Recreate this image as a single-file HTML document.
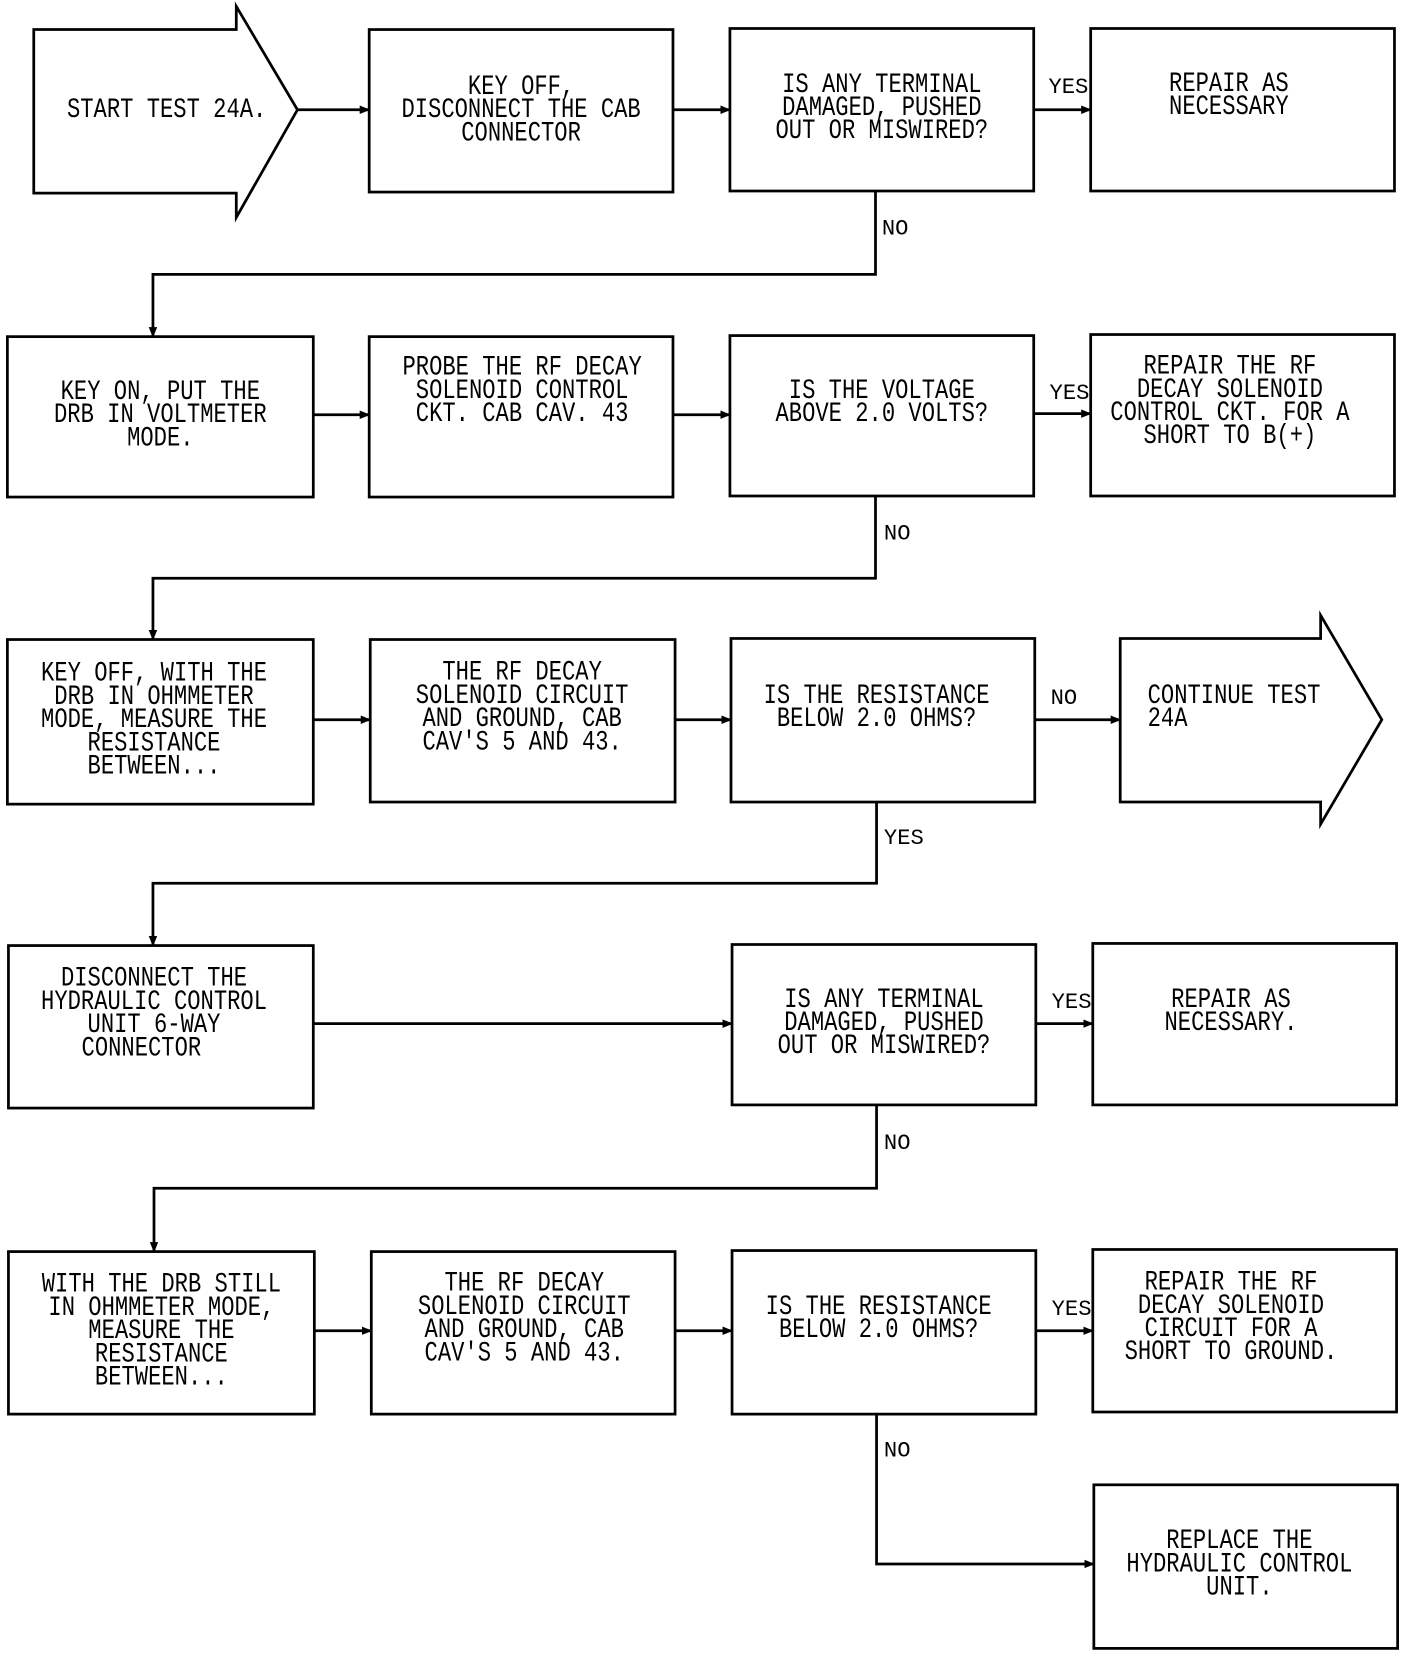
<!DOCTYPE html>
<html><head><meta charset="utf-8"><style>
html,body{margin:0;padding:0;background:#fff;}
svg{display:block;}
text{font-family:"Liberation Mono",monospace;font-size:21px;fill:#000;text-anchor:middle;}
.l{text-anchor:start;}
</style></head><body>
<svg width="1424" height="1660" viewBox="0 0 1350 1573" preserveAspectRatio="none" xmlns="http://www.w3.org/2000/svg">
<defs><marker id="a" markerWidth="10" markerHeight="8" refX="9" refY="4" orient="auto" markerUnits="userSpaceOnUse"><path d="M0,0 L10,4 L0,8 z" fill="#000"/></marker></defs>
<g fill="none" stroke="#000" stroke-width="2.6">
<!-- row1 -->
<path d="M32,28 H224 V6 L282,104 L224,206 V183 H32 Z"/>
<rect x="350" y="28" width="288" height="154"/>
<rect x="692" y="27" width="288" height="154"/>
<rect x="1034" y="27" width="288" height="154"/>
<!-- row2 -->
<rect x="7" y="319" width="290" height="152"/>
<rect x="350" y="319" width="288" height="152"/>
<rect x="692" y="318" width="288" height="152"/>
<rect x="1034" y="317" width="288" height="153"/>
<!-- row3 -->
<rect x="7" y="606" width="290" height="156"/>
<rect x="351" y="606" width="289" height="154"/>
<rect x="693" y="605" width="288" height="155"/>
<path d="M1062,605 H1252 V583 L1310,682 L1252,781 V760 H1062 Z"/>
<!-- row4 -->
<rect x="8" y="896" width="289" height="154"/>
<rect x="694" y="895" width="288" height="152"/>
<rect x="1036" y="894" width="288" height="153"/>
<!-- row5 -->
<rect x="8" y="1186" width="290" height="154"/>
<rect x="352" y="1186" width="288" height="154"/>
<rect x="694" y="1185" width="288" height="155"/>
<rect x="1036" y="1184" width="288" height="154"/>
<rect x="1037" y="1407" width="288" height="155"/>
<!-- connectors -->
<g marker-end="url(#a)">
<path d="M282,104 H350"/><path d="M638,104 H692"/><path d="M980,104 H1034"/>
<path d="M830,181 V260 H145 V319"/>
<path d="M297,393 H350"/><path d="M638,393 H692"/><path d="M980,392 H1034"/>
<path d="M830,470 V548 H145 V606"/>
<path d="M297,682 H351"/><path d="M640,682 H693"/><path d="M981,682 H1062"/>
<path d="M831,760 V837 H145 V896"/>
<path d="M297,970 H694"/><path d="M982,970 H1036"/>
<path d="M831,1047 V1126 H146 V1186"/>
<path d="M298,1261 H352"/><path d="M640,1261 H694"/><path d="M982,1261 H1036"/>
<path d="M831,1340 V1482 H1037"/>
</g>
</g>
<!-- labels -->
<g>
<text class="l" x="994" y="88">YES</text>
<text class="l" x="836" y="222">NO</text>
<text class="l" x="995" y="378">YES</text>
<text class="l" x="838" y="511">NO</text>
<text class="l" x="996" y="667">NO</text>
<text class="l" x="838" y="800">YES</text>
<text class="l" x="997" y="955">YES</text>
<text class="l" x="838" y="1089">NO</text>
<text class="l" x="997" y="1246">YES</text>
<text class="l" x="838" y="1380">NO</text>
</g>
<g>
<text transform="translate(158,111) scale(1,1.25)">START TEST 24A.</text>
<text transform="translate(494,89) scale(1,1.25)"><tspan x="0" dy="0">KEY OFF,</tspan><tspan x="0" dy="17.6">DISCONNECT THE CAB</tspan><tspan x="0" dy="17.6">CONNECTOR</tspan></text>
<text transform="translate(836,87) scale(1,1.25)"><tspan x="0" dy="0">IS ANY TERMINAL</tspan><tspan x="0" dy="17.6">DAMAGED, PUSHED</tspan><tspan x="0" dy="17.6">OUT OR MISWIRED?</tspan></text>
<text transform="translate(1165,86) scale(1,1.25)"><tspan x="0" dy="0">REPAIR AS</tspan><tspan x="0" dy="17.6">NECESSARY</tspan></text>

<text transform="translate(152,378) scale(1,1.25)"><tspan x="0" dy="0">KEY ON, PUT THE</tspan><tspan x="0" dy="17.6">DRB IN VOLTMETER</tspan><tspan x="0" dy="17.6">MODE.</tspan></text>
<text transform="translate(495,355) scale(1,1.25)"><tspan x="0" dy="0">PROBE THE RF DECAY</tspan><tspan x="0" dy="17.6">SOLENOID CONTROL</tspan><tspan x="0" dy="17.6">CKT. CAB CAV. 43</tspan></text>
<text transform="translate(836,377) scale(1,1.25)"><tspan x="0" dy="0">IS THE VOLTAGE</tspan><tspan x="0" dy="17.6">ABOVE 2.0 VOLTS?</tspan></text>
<text transform="translate(1166,354) scale(1,1.25)"><tspan x="0" dy="0">REPAIR THE RF</tspan><tspan x="0" dy="17.6">DECAY SOLENOID</tspan><tspan x="0" dy="17.6">CONTROL CKT. FOR A</tspan><tspan x="0" dy="17.6">SHORT TO B(+)</tspan></text>

<text transform="translate(146,645) scale(1,1.25)"><tspan x="0" dy="0">KEY OFF, WITH THE</tspan><tspan x="0" dy="17.6">DRB IN OHMMETER</tspan><tspan x="0" dy="17.6">MODE, MEASURE THE</tspan><tspan x="0" dy="17.6">RESISTANCE</tspan><tspan x="0" dy="17.6">BETWEEN...</tspan></text>
<text transform="translate(495,644) scale(1,1.25)"><tspan x="0" dy="0">THE RF DECAY</tspan><tspan x="0" dy="17.6">SOLENOID CIRCUIT</tspan><tspan x="0" dy="17.6">AND GROUND, CAB</tspan><tspan x="0" dy="17.6">CAV'S 5 AND 43.</tspan></text>
<text transform="translate(831,666) scale(1,1.25)"><tspan x="0" dy="0">IS THE RESISTANCE</tspan><tspan x="0" dy="17.6">BELOW 2.0 OHMS?</tspan></text>
<text class="l" transform="translate(1088,666) scale(1,1.25)"><tspan x="0" dy="0">CONTINUE TEST</tspan><tspan x="0" dy="17.6">24A</tspan></text>

<text transform="translate(146,934) scale(1,1.25)"><tspan x="0" dy="0">DISCONNECT THE</tspan><tspan x="0" dy="17.6">HYDRAULIC CONTROL</tspan><tspan x="0" dy="17.6">UNIT 6-WAY</tspan><tspan x="-12" dy="17.6">CONNECTOR</tspan></text>
<text transform="translate(838,954) scale(1,1.25)"><tspan x="0" dy="0">IS ANY TERMINAL</tspan><tspan x="0" dy="17.6">DAMAGED, PUSHED</tspan><tspan x="0" dy="17.6">OUT OR MISWIRED?</tspan></text>
<text transform="translate(1167,954) scale(1,1.25)"><tspan x="0" dy="0">REPAIR AS</tspan><tspan x="0" dy="17.6">NECESSARY.</tspan></text>

<text transform="translate(153,1224) scale(1,1.25)"><tspan x="0" dy="0">WITH THE DRB STILL</tspan><tspan x="0" dy="17.6">IN OHMMETER MODE,</tspan><tspan x="0" dy="17.6">MEASURE THE</tspan><tspan x="0" dy="17.6">RESISTANCE</tspan><tspan x="0" dy="17.6">BETWEEN...</tspan></text>
<text transform="translate(497,1223) scale(1,1.25)"><tspan x="0" dy="0">THE RF DECAY</tspan><tspan x="0" dy="17.6">SOLENOID CIRCUIT</tspan><tspan x="0" dy="17.6">AND GROUND, CAB</tspan><tspan x="0" dy="17.6">CAV'S 5 AND 43.</tspan></text>
<text transform="translate(833,1245) scale(1,1.25)"><tspan x="0" dy="0">IS THE RESISTANCE</tspan><tspan x="0" dy="17.6">BELOW 2.0 OHMS?</tspan></text>
<text transform="translate(1167,1222) scale(1,1.25)"><tspan x="0" dy="0">REPAIR THE RF</tspan><tspan x="0" dy="17.6">DECAY SOLENOID</tspan><tspan x="0" dy="17.6">CIRCUIT FOR A</tspan><tspan x="0" dy="17.6">SHORT TO GROUND.</tspan></text>

<text transform="translate(1175,1467) scale(1,1.25)"><tspan x="0" dy="0">REPLACE THE</tspan><tspan x="0" dy="17.6">HYDRAULIC CONTROL</tspan><tspan x="0" dy="17.6">UNIT.</tspan></text>
</g>
</svg>
</body></html>
